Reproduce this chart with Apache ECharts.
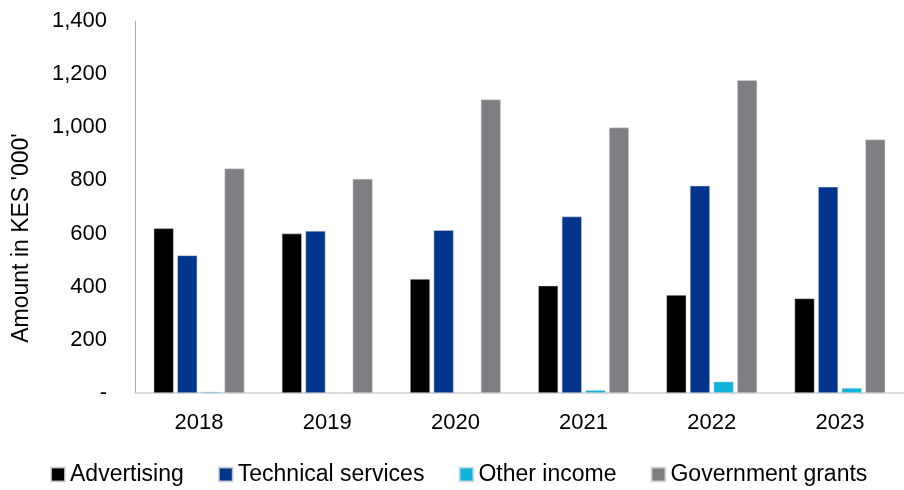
<!DOCTYPE html>
<html>
<head>
<meta charset="utf-8">
<script src="https://cdn.jsdelivr.net/npm/echarts@6/dist/echarts.min.js"></script>
<style>
  html, body { margin: 0; padding: 0; background: #ffffff; }
  #chart { width: 904px; height: 490px; }
</style>
</head>
<body>
<div id="chart"></div>
<script>
// Income by source, KES thousands
const years = ['2018', '2019', '2020', '2021', '2022', '2023'];
const advertising = [620, 600, 429, 404, 369, 356];
const technicalServices = [518, 610, 613, 664, 780, 776];
const otherIncome = [5, 2, 1, 11, 43, 19];
const governmentGrants = [845, 806, 1105, 999, 1177, 954];
const yTicks = [0, 200, 400, 600, 800, 1000, 1200, 1400];

const seriesNames = ['Advertising', 'Technical services', 'Other income', 'Government grants'];
const seriesColors = ['#000000', '#00358E', '#10B4DA', '#7D7F83'];
const seriesData = [advertising, technicalServices, otherIncome, governmentGrants];

const fontFamily = '"Liberation Sans", Arial, sans-serif';

const chart = echarts.init(document.getElementById('chart'), null, { renderer: 'canvas' });

chart.setOption({
  animation: false,
  backgroundColor: '#ffffff',
  textStyle: { fontFamily: fontFamily, color: '#000000' },
  grid: { left: 135, top: 21, width: 776, bottom: 97, containLabel: false },
  legend: {
    data: seriesNames,
    left: 50,
    top: 463,
    padding: 0,
    itemWidth: 14,
    itemHeight: 14,
    itemGap: 34,
    icon: 'rect',
    textStyle: { fontSize: 23, fontFamily: fontFamily, color: '#000000', lineHeight: 23 }
  },
  xAxis: {
    type: 'category',
    data: years,
    axisLine: { show: true, lineStyle: { color: '#d0d0d0', width: 1.5 } },
    axisTick: { show: false },
    axisLabel: { fontSize: 22, color: '#000000', margin: 19, fontFamily: fontFamily },
    splitLine: { show: false }
  },
  yAxis: {
    type: 'value',
    min: yTicks[0],
    max: yTicks[yTicks.length - 1],
    interval: yTicks[1] - yTicks[0],
    name: "Amount in KES '000'",
    nameLocation: 'middle',
    nameRotate: 90,
    nameGap: 102,
    nameTextStyle: { fontSize: 23, color: '#000000', fontFamily: fontFamily, padding: [0, 62, 0, 0] },
    axisLine: { show: true, lineStyle: { color: '#a6a6a6', width: 1 } },
    axisTick: { show: false },
    splitLine: { show: false },
    axisLabel: {
      fontSize: 22,
      color: '#000000',
      margin: 28,
      fontFamily: fontFamily,
      formatter: function (v) {
        return v === 0 ? '-' : v.toLocaleString('en-US');
      }
    }
  },
  series: seriesNames.map(function (name, i) {
    return {
      name: name,
      type: 'bar',
      data: seriesData[i],
      barWidth: 20,
      barGap: '18%',
      itemStyle: { color: seriesColors[i], borderColor: 'rgba(220,220,220,0.8)', borderWidth: 0.6 }
    };
  })
});
</script>
</body>
</html>
